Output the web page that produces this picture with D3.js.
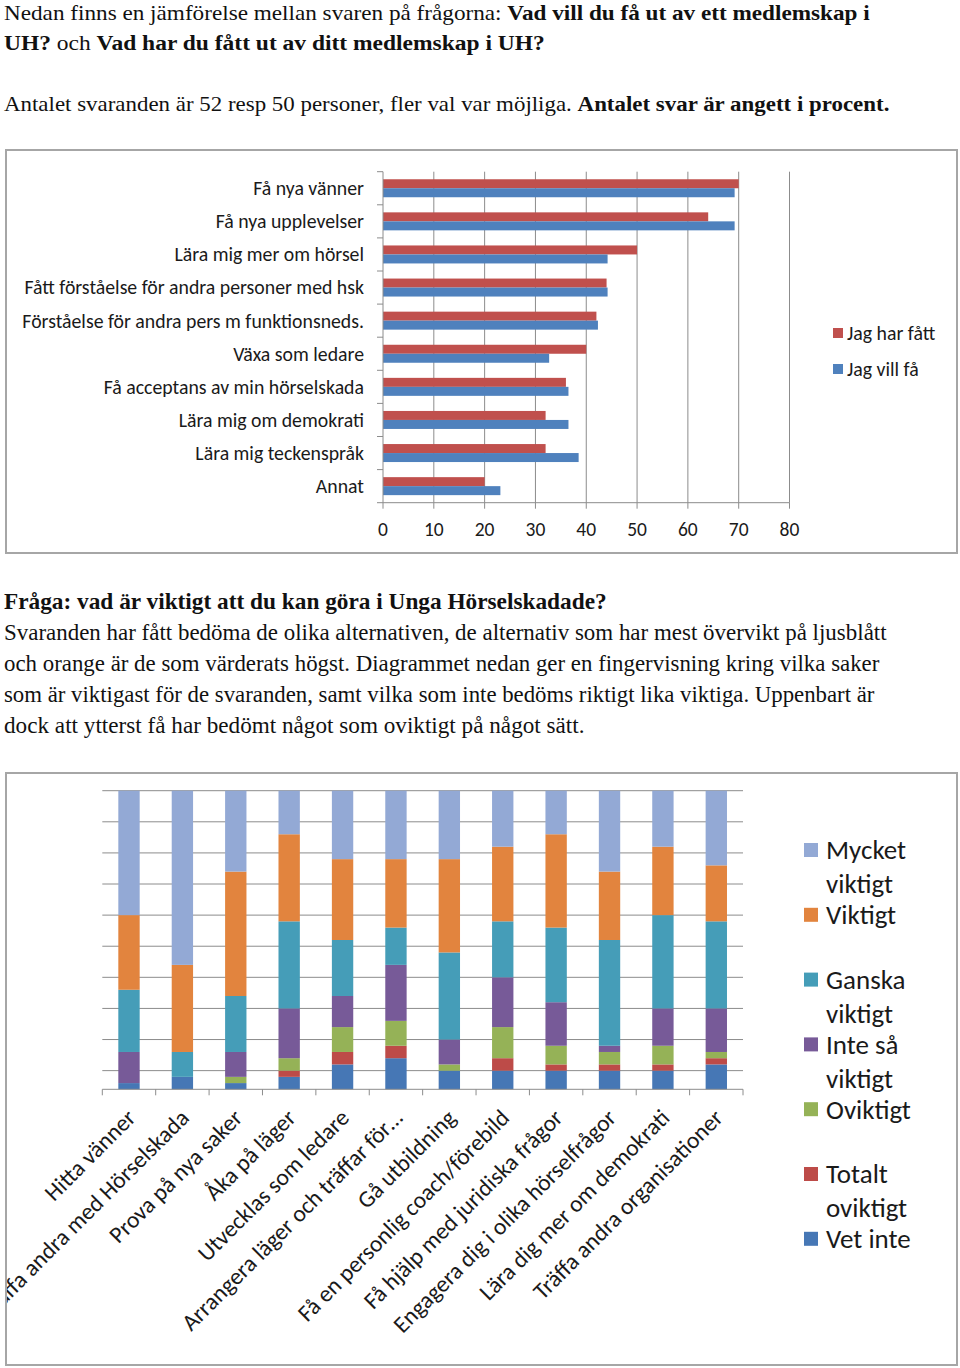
<!DOCTYPE html>
<html><head><meta charset="utf-8">
<script src="https://cdn.jsdelivr.net/npm/d3@7"></script>
<style>body{margin:0;background:#fff} svg{display:block}</style>
</head><body>
<svg id="c" width="960" height="1368"></svg>
<script>
// ---------- Data: chart 1 (horizontal grouped bars, percent) ----------
const barCategories = ["Få nya vänner","Få nya upplevelser","Lära mig mer om hörsel","Fått förståelse för andra personer med hsk","Förståelse för andra pers m funktionsneds.","Växa som ledare","Få acceptans av min hörselskada","Lära mig om demokrati","Lära mig teckenspråk","Annat"];
const barSeries = ["Jag har fått","Jag vill få"];
const jagHarFatt = [70,64,50,44,42,40,36,32,32,20];
const jagVillFa = [69.2,69.2,44.2,44.2,42.3,32.7,36.5,36.5,38.5,23.1];
const barTicks = [0,10,20,30,40,50,60,70,80];

// ---------- Data: chart 2 (stacked bars, number of answers, 48 each) ----------
const stackCategories = ["Hitta vänner","Träffa andra med Hörselskada","Prova på nya saker","Åka på läger","Utvecklas som ledare","Arrangera läger och träffar för…","Gå utbildning","Få en personlig coach/förebild","Få hjälp med juridiska frågor","Engagera dig i olika hörselfrågor","Lära dig mer om demokrati","Träffa andra organisationer"];
const stackKeys = ["Vet inte","Totalt oviktigt","Oviktigt","Inte så viktigt","Ganska viktigt","Viktigt","Mycket viktigt"];
const vetInte        = [1,2,1,2,4,5,3,3,3,3,3,4];
const totaltOviktigt = [0,0,0,1,2,2,0,2,1,1,1,1];
const oviktigt       = [0,0,1,2,4,4,1,5,3,2,3,1];
const inteSaViktigt  = [5,0,4,8,5,9,4,8,7,1,6,7];
const ganskaViktigt  = [10,4,9,14,9,6,14,9,12,17,15,14];
const viktigt        = [12,14,20,14,13,11,15,12,15,11,11,9];
const mycketViktigt  = [20,28,13,7,11,11,11,9,7,13,9,12];
const stackTotal = 48;
const stackGridValues = [48,43,38,33,28,23,18,13,8,3];
const legendOrder = ["Mycket viktigt","Viktigt","Ganska viktigt","Inte så viktigt","Oviktigt","Totalt oviktigt","Vet inte"];
const legendLines = [["Mycket","viktigt"],["Viktigt"],["Ganska","viktigt"],["Inte så","viktigt"],["Oviktigt"],["Totalt","oviktigt"],["Vet inte"]];

// ---------- Text ----------
const introLines = [
  [["Nedan finns en jämförelse mellan svaren på frågorna: ",false],["Vad vill du få ut av ett medlemskap i",true]],
  [["UH?",true],[" och ",false],["Vad har du fått ut av ditt medlemskap i UH?",true]],
  null,
  [["Antalet svaranden är 52 resp 50 personer, fler val var möjliga. ",false],["Antalet svar är angett i procent.",true]]
];
const introWidths = [866, 541, 0, 886];
const sectionLines = [
  [["Fråga: vad är viktigt att du kan göra i Unga Hörselskadade?",true]],
  [["Svaranden har fått bedöma de olika alternativen, de alternativ som har mest övervikt på ljusblått",false]],
  [["och orange är de som värderats högst. Diagrammet nedan ger en fingervisning kring vilka saker",false]],
  [["som är viktigast för de svaranden, samt vilka som inte bedöms riktigt lika viktiga. Uppenbart är",false]],
  [["dock att ytterst få har bedömt något som oviktigt på något sätt.",false]]
];
const sectionWidths = [603, 883, 876, 871, 581];

const svg = d3.select("#c");
const serif = "'Liberation Serif','DejaVu Serif',serif";
const sans = "Carlito, Lato, 'Open Sans', sans-serif";

function writeLines(lines, widths, x, y0, lh, fs) {
  lines.forEach((ln, i) => {
    if (!ln) return;
    const t = svg.append("text").attr("x", x).attr("y", y0 + i*lh)
      .attr("font-family", serif).attr("font-size", fs).attr("fill", "#111");
    ln.forEach(([s,b]) => t.append("tspan").attr("font-weight", b ? "bold" : "normal").text(s));
    const w = t.node().getComputedTextLength();
    const sx = widths[i] / w;
    t.attr("transform", `translate(${x},0) scale(${sx},1) translate(${-x},0)`);
  });
}
writeLines(introLines, introWidths, 4, 20, 30.5, 22);
writeLines(sectionLines, sectionWidths, 4, 609, 31, 23);

const gridColor = "#8c8c8c";
const frameColor = "#a6a6a6";

// ---------- Chart 1 ----------
svg.append("rect").attr("x", 6).attr("y", 150).attr("width", 951).attr("height", 403)
  .attr("fill", "none").attr("stroke", frameColor).attr("stroke-width", 2);

const x1 = d3.scaleLinear().domain([0,80]).range([383, 789.5]);
const y1 = d3.scaleBand().domain(barCategories).range([171.7, 502.7]);
const ySub = d3.scaleBand().domain(barSeries).range([0, y1.bandwidth()]).paddingOuter(0.84);
const barColors = {"Jag har fått":"#c0504d","Jag vill få":"#4f81bd"};
const c1 = svg.append("g");

c1.append("g").selectAll("line").data(barTicks.slice(1)).join("line")
  .attr("x1", d => x1(d)).attr("x2", d => x1(d))
  .attr("y1", y1.range()[0]).attr("y2", y1.range()[1])
  .attr("stroke", gridColor).attr("stroke-width", 1);

const rows = barCategories.map((c,i) => ({c, v:[jagHarFatt[i], jagVillFa[i]]}));
c1.append("g").selectAll("g").data(rows).join("g")
  .attr("transform", d => `translate(0,${y1(d.c)})`)
  .selectAll("rect").data(d => barSeries.map((s,j) => ({s, v:d.v[j]}))).join("rect")
  .attr("x", x1(0)).attr("y", d => ySub(d.s))
  .attr("width", d => x1(d.v) - x1(0)).attr("height", ySub.bandwidth())
  .attr("fill", d => barColors[d.s]);

// left axis
const yAxis1 = c1.append("g");
yAxis1.append("line").attr("x1", x1(0)).attr("x2", x1(0)).attr("y1", y1.range()[0]).attr("y2", y1.range()[1]).attr("stroke", gridColor);
yAxis1.selectAll("line.t").data(d3.range(barCategories.length + 1)).join("line").attr("class","t")
  .attr("x1", x1(0) - 6).attr("x2", x1(0))
  .attr("y1", i => y1.range()[0] + i*y1.step()).attr("y2", i => y1.range()[0] + i*y1.step())
  .attr("stroke", gridColor);
yAxis1.selectAll("text").data(barCategories).join("text")
  .attr("x", x1(0) - 19).attr("y", d => y1(d) + y1.bandwidth()/2).attr("dy", "0.35em")
  .attr("text-anchor", "end").attr("font-family", sans).attr("font-size", 19.8).attr("fill", "#1a1a1a")
  .text(d => d);

// bottom axis
const xAxis1 = c1.append("g");
xAxis1.append("line").attr("x1", x1(0)).attr("x2", x1(80)).attr("y1", y1.range()[1]).attr("y2", y1.range()[1]).attr("stroke", gridColor);
xAxis1.selectAll("line.t").data(barTicks).join("line").attr("class","t")
  .attr("x1", d => x1(d)).attr("x2", d => x1(d)).attr("y1", y1.range()[1]).attr("y2", y1.range()[1] + 6)
  .attr("stroke", gridColor);
xAxis1.selectAll("text").data(barTicks).join("text")
  .attr("x", d => x1(d)).attr("y", 529).attr("dy", "0.35em").attr("text-anchor", "middle")
  .attr("font-family", sans).attr("font-size", 19.5).attr("fill", "#1a1a1a").text(d => d);

// legend 1
const leg1 = c1.append("g");
barSeries.forEach((s,i) => {
  const cy = 333 + i*36;
  leg1.append("rect").attr("x", 833).attr("y", cy - 5).attr("width", 10).attr("height", 10).attr("fill", barColors[s]);
  leg1.append("text").attr("x", 847).attr("y", cy).attr("dy", "0.35em").attr("font-family", sans)
    .attr("font-size", 19.8).attr("fill", "#1a1a1a").text(s);
});

// ---------- Chart 2 ----------
svg.append("rect").attr("x", 6).attr("y", 773).attr("width", 951).attr("height", 592)
  .attr("fill", "none").attr("stroke", frameColor).attr("stroke-width", 2);
svg.append("clipPath").attr("id", "clip2").append("rect").attr("x", 7).attr("y", 774).attr("width", 949).attr("height", 590);

const x2 = d3.scaleBand().domain(stackCategories).range([102.3, 743]).paddingInner(0.6).paddingOuter(0.3);
const y2 = d3.scaleLinear().domain([0, stackTotal]).range([1089.3, 790.7]);
const stackColors = {"Mycket viktigt":"#93a9d5","Viktigt":"#e2843e","Ganska viktigt":"#459db8","Inte så viktigt":"#775a98","Oviktigt":"#95b257","Totalt oviktigt":"#bd4b48","Vet inte":"#4677b5"};
const seriesArrays = {"Vet inte":vetInte,"Totalt oviktigt":totaltOviktigt,"Oviktigt":oviktigt,"Inte så viktigt":inteSaViktigt,"Ganska viktigt":ganskaViktigt,"Viktigt":viktigt,"Mycket viktigt":mycketViktigt};
const table = stackCategories.map((c,i) => {
  const o = {cat:c};
  stackKeys.forEach(k => o[k] = seriesArrays[k][i]);
  return o;
});
const stacked = d3.stack().keys(stackKeys)(table);
const c2 = svg.append("g");

c2.append("g").selectAll("line").data(stackGridValues).join("line")
  .attr("x1", x2.range()[0]).attr("x2", x2.range()[1])
  .attr("y1", d => y2(d)).attr("y2", d => y2(d))
  .attr("stroke", gridColor);

c2.append("g").selectAll("g").data(stacked).join("g").attr("fill", d => stackColors[d.key])
  .selectAll("rect").data(d => d).join("rect")
  .attr("x", d => x2(d.data.cat)).attr("width", x2.bandwidth())
  .attr("y", d => y2(d[1])).attr("height", d => y2(d[0]) - y2(d[1]));

const xAxis2 = c2.append("g");
xAxis2.append("line").attr("x1", x2.range()[0]).attr("x2", x2.range()[1]).attr("y1", y2(0)).attr("y2", y2(0)).attr("stroke", gridColor);
xAxis2.selectAll("line.t").data(d3.range(stackCategories.length + 1)).join("line").attr("class","t")
  .attr("x1", i => x2.range()[0] + i*x2.step()).attr("x2", i => x2.range()[0] + i*x2.step())
  .attr("y1", y2(0)).attr("y2", y2(0) + 6).attr("stroke", gridColor);
xAxis2.append("g").attr("clip-path", "url(#clip2)").selectAll("text").data(stackCategories).join("text")
  .attr("transform", d => `translate(${x2(d) + x2.bandwidth()/2 + 8},${y2(0) + 30}) rotate(-45)`)
  .attr("text-anchor", "end").attr("font-family", sans).attr("font-size", 23.5).attr("fill", "#1a1a1a")
  .text(d => d);

// legend 2
const leg2 = c2.append("g");
legendOrder.forEach((k,i) => {
  const cy = 850 + i*64.8;
  leg2.append("rect").attr("x", 804).attr("y", cy - 7).attr("width", 14).attr("height", 14).attr("fill", stackColors[k]);
  legendLines[i].forEach((ln,j) => {
    leg2.append("text").attr("x", 826).attr("y", cy + j*34).attr("dy", "0.35em").attr("font-family", sans)
      .attr("font-size", 27).attr("fill", "#1a1a1a").text(ln);
  });
});
</script>
</body></html>
